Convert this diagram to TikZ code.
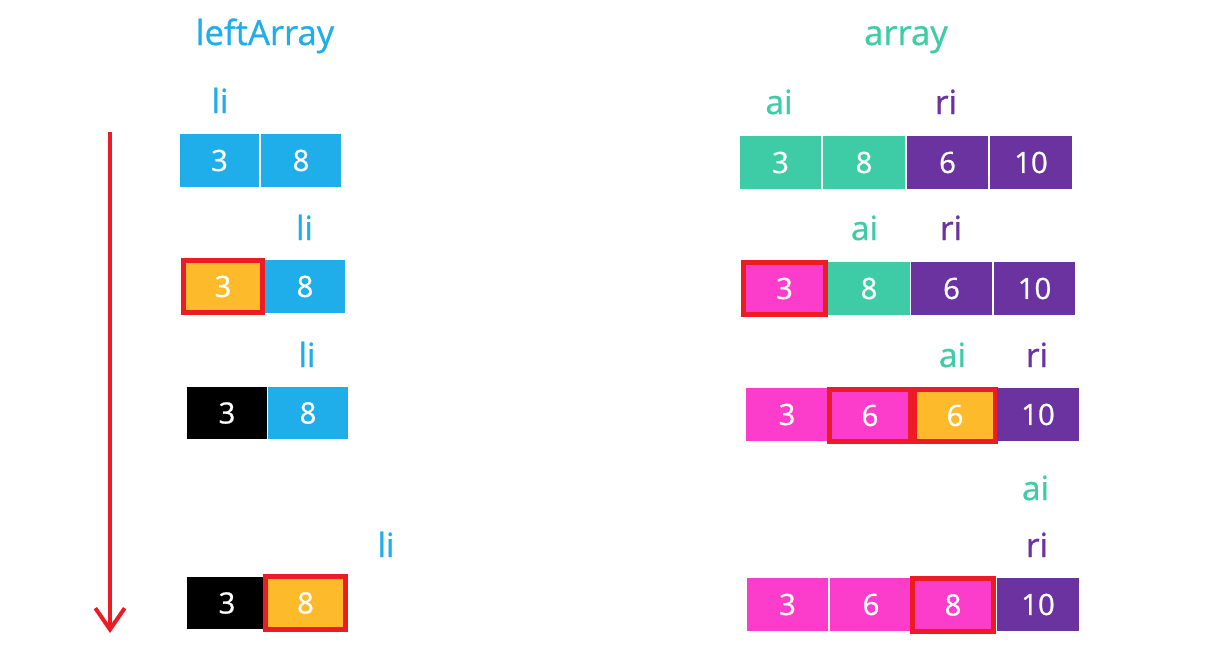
\documentclass[tikz,border=0pt]{standalone}
\usepackage{fontspec}
\setmainfont{Open Sans}[FakeBold=0.8]
\usetikzlibrary{arrows.meta}
\definecolor{cellblue}{RGB}{31,174,233}
\definecolor{cellgreen}{RGB}{62,204,167}
\definecolor{cellpurple}{RGB}{106,51,160}
\definecolor{cellpink}{RGB}{252,60,202}
\definecolor{cellyellow}{RGB}{253,187,44}
\definecolor{markred}{RGB}{237,28,36}

\begin{document}
\begin{tikzpicture}[x=0.75pt,y=0.75pt,yscale=-1,xscale=1,
  cell/.style={minimum width=59.5pt,minimum height=39.5pt,inner sep=0pt,text=white,font=\fontsize{22}{26}\selectfont},
  rcell/.style={cell,minimum width=61pt},
  hot/.style={draw=markred,line width=3.75pt},
  lbl/.style={anchor=base,inner sep=0pt,font=\fontsize{25}{30}\selectfont},
  ttl/.style={anchor=base,inner sep=0pt,font=\fontsize{26}{31}\selectfont}]
\useasboundingbox (0,0) rectangle (1225,664);

% Text Node
\node [ttl,text=cellblue] (lefttitle) at (265,45) {leftArray};
% Text Node
\node [ttl,text=cellgreen] (righttitle) at (906,45) {array};

%Straight Lines: step arrow
\coordinate (arrtop) at (110,132);
\coordinate (arrbot) at (110,633);
\draw [markred,line width=3pt,-{Straight Barb[length=16pt,width=22pt,line width=3pt]}] (arrtop) -- (arrbot);

%Shape: leftArray rows
\node [cell,fill=cellblue] (l1a) at (219.5,160.5) {3};
\node [cell,fill=cellblue] (l1b) at (301,160.5) {8};
\node [cell,fill=cellyellow,hot] (l2a) at (223,286.5) {3};
\node [cell,fill=cellblue] (l2b) at (305,286.5) {8};
\node [cell,fill=black] (l3a) at (227,413) {3};
\node [cell,fill=cellblue] (l3b) at (308,413) {8};
\node [cell,fill=black] (l4a) at (227,603) {3};
\node [cell,fill=cellyellow,hot] (l4b) at (305.5,603) {8};

%Shape: array rows
\node [rcell,fill=cellgreen] (r1a) at (780.5,162.5) {3};
\node [rcell,fill=cellgreen] (r1b) at (864,162.5) {8};
\node [rcell,fill=cellpurple] (r1c) at (947.5,162.5) {6};
\node [rcell,fill=cellpurple] (r1d) at (1031,162.5) {10};
\node [rcell,fill=cellpink,hot] (r2a) at (784.5,288.5) {3};
\node [rcell,fill=cellgreen] (r2b) at (869,288.5) {8};
\node [rcell,fill=cellpurple] (r2c) at (951.5,288.5) {6};
\node [rcell,fill=cellpurple] (r2d) at (1034.5,288.5) {10};
\node [rcell,fill=cellpink] (r3a) at (787,414.5) {3};
\node [rcell,fill=cellpink,hot] (r3b) at (870,415.5) {6};
\node [rcell,fill=cellyellow,hot] (r3c) at (955,415.5) {6};
\node [rcell,fill=cellpurple] (r3d) at (1038,414.5) {10};
\node [rcell,fill=cellpink] (r4a) at (787.5,604.5) {3};
\node [rcell,fill=cellpink] (r4b) at (871,604.5) {6};
\node [rcell,fill=cellpink,hot] (r4c) at (953,605) {8};
\node [rcell,fill=cellpurple] (r4d) at (1038,604.5) {10};

% Text Node: pointers
\node [lbl,text=cellblue] (li1) at (220,113) {li};
\node [lbl,text=cellblue] (li2) at (304.5,240) {li};
\node [lbl,text=cellblue] (li3) at (307,367) {li};
\node [lbl,text=cellblue] (li4) at (386,557) {li};
\node [lbl,text=cellgreen] (ai1) at (779,114) {ai};
\node [lbl,text=cellpurple] (ri1) at (946,114) {ri};
\node [lbl,text=cellgreen] (ai2) at (864.5,240) {ai};
\node [lbl,text=cellpurple] (ri2) at (951,240) {ri};
\node [lbl,text=cellgreen] (ai3) at (952.5,367) {ai};
\node [lbl,text=cellpurple] (ri3) at (1037,367) {ri};
\node [lbl,text=cellgreen] (ai4) at (1035.5,500) {ai};
\node [lbl,text=cellpurple] (ri4) at (1037,557) {ri};
\end{tikzpicture}
\end{document}
